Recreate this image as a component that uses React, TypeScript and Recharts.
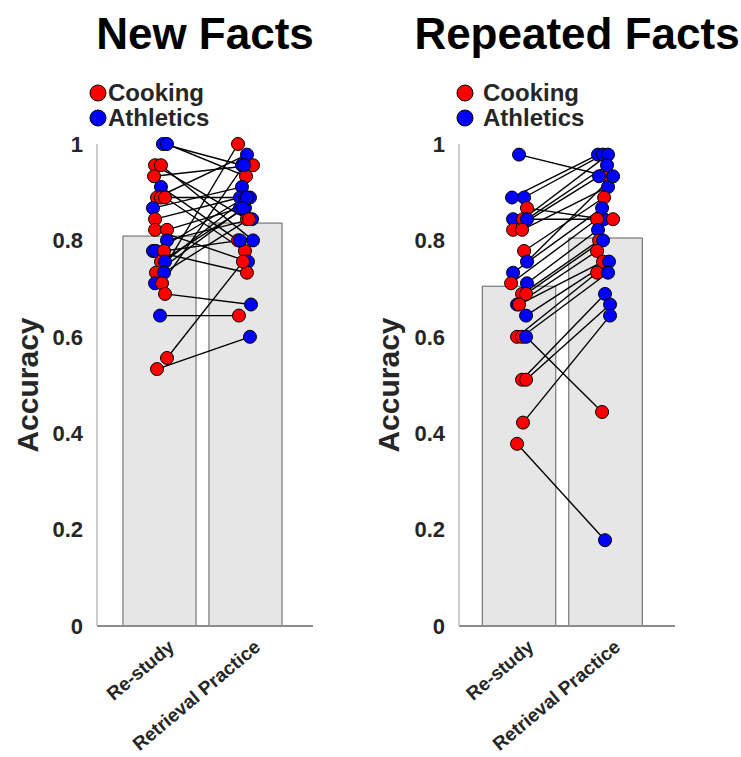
import React from "react";
import {
  ComposedChart,
  XAxis,
  YAxis,
  Scatter,
  ReferenceArea,
  ReferenceLine,
} from "recharts";

const CONDITIONS = ["Re-study", "Retrieval Practice"];
const Y_TICKS = [0, 0.2, 0.4, 0.6, 0.8, 1];
const LEGEND = [
  { key: "C", label: "Cooking", color: "#ff0000" },
  { key: "A", label: "Athletics", color: "#0000ff" },
];

// New facts: one entry per participant, re-study then retrieval practice
const NEW_RESTUDY = [1, 1, 0.956, 0.956, 0.933, 0.911, 0.889, 0.889, 0.889, 0.867, 0.844, 0.822, 0.822, 0.8, 0.778, 0.778, 0.778, 0.756, 0.756, 0.733, 0.733, 0.711, 0.711, 0.689, 0.644, 0.556, 0.533];
const NEW_RESTUDY_DOMAIN = ["A", "A", "C", "C", "C", "A", "C", "C", "C", "A", "C", "C", "C", "A", "A", "A", "C", "C", "A", "C", "A", "A", "C", "C", "A", "C", "C"];
const NEW_RESTUDY_JITTER = [0.04, 0.087, -0.052, 0.017, -0.064, 0.017, -0.029, 0.017, 0.064, -0.076, -0.052, -0.052, 0.087, 0.087, -0.076, -0.041, 0.052, 0.017, 0.064, -0.041, 0.052, -0.052, 0.029, 0.064, 0.006, 0.087, -0.029];
const NEW_RETRIEVAL = [0.956, 0.933, 0.844, 0.8, 0.956, 0.8, 0.978, 0.889, 0.778, 0.911, 0.889, 0.756, 0.867, 0.844, 0.733, 0.889, 0.8, 0.867, 0.889, 0.867, 0.844, 1, 0.956, 0.667, 0.644, 0.756, 0.6];
const NEW_RETRIEVAL_DOMAIN = ["A", "C", "C", "A", "C", "C", "A", "A", "C", "A", "A", "A", "A", "A", "C", "A", "A", "A", "A", "A", "C", "C", "A", "A", "C", "C", "A"];
const NEW_RETRIEVAL_JITTER = [-0.041, 0.006, 0.017, 0.087, 0.087, -0.087, 0.017, 0.052, -0.006, -0.041, -0.064, 0.029, -0.064, 0.076, 0.017, -0.006, -0.064, -0.006, 0.017, -0.029, 0.041, -0.087, -0.017, 0.064, -0.076, -0.029, 0.052];
const NEW_MEANS = [0.809, 0.836];

// Repeated facts
const REP_RESTUDY = [0.978, 0.889, 0.889, 0.867, 0.844, 0.844, 0.844, 0.822, 0.822, 0.778, 0.756, 0.733, 0.711, 0.711, 0.689, 0.689, 0.667, 0.667, 0.644, 0.6, 0.6, 0.6, 0.511, 0.511, 0.422, 0.378];
const REP_RESTUDY_DOMAIN = ["A", "A", "A", "C", "A", "C", "A", "C", "C", "C", "A", "A", "C", "A", "C", "C", "A", "C", "A", "C", "C", "A", "C", "C", "C", "C"];
const REP_RESTUDY_JITTER = [0, -0.081, 0.058, 0.092, -0.069, 0.046, 0.092, -0.069, 0.035, 0.058, 0.092, -0.069, -0.092, 0.092, 0.035, 0.081, -0.023, 0, 0.081, -0.023, 0.035, 0.081, 0.035, 0.081, 0.046, -0.023];
const REP_RETRIEVAL = [0.933, 0.978, 0.978, 0.844, 0.844, 0.978, 0.956, 0.933, 0.911, 0.889, 0.933, 0.867, 0.844, 0.822, 0.8, 0.8, 0.778, 0.756, 0.756, 0.733, 0.733, 0.444, 0.689, 0.667, 0.644, 0.178];
const REP_RETRIEVAL_DOMAIN = ["C", "A", "A", "A", "C", "A", "A", "A", "A", "C", "A", "A", "C", "A", "C", "A", "C", "C", "A", "C", "A", "C", "A", "A", "A", "A"];
const REP_RETRIEVAL_JITTER = [0.017, -0.087, -0.029, -0.017, 0.087, 0.029, 0.017, -0.075, 0.029, -0.017, 0.087, -0.04, -0.098, -0.087, -0.075, -0.029, -0.098, -0.029, 0.04, -0.098, 0.029, -0.04, -0.006, 0.052, 0.052, -0.006];
const REP_MEANS = [0.705, 0.805];

const FONT = "'Liberation Sans', Arial, Helvetica, sans-serif";
const TEXT = "#262626";
const colorOf = (d: string) => (d === "C" ? "#ff0000" : "#0000ff");

interface PanelProps {
  restudy: number[];
  restudyDomain: string[];
  restudyJitter: number[];
  retrieval: number[];
  retrievalDomain: string[];
  retrievalJitter: number[];
  means: number[];
  xDomain: [number, number];
  width: number;
  yAxisWidth: number;
  rightMargin: number;
}

const XTick = (props: any) => {
  const { x, y, payload } = props;
  const label = CONDITIONS[Math.round(payload.value) - 1];
  return (
    <g transform={`translate(${x + 12},${y + 10})`}>
      <text
        textAnchor="end"
        dominantBaseline="central"
        transform="rotate(-40)"
        fontSize={19}
        fontWeight="bold"
        fontFamily={FONT}
        fill={TEXT}
      >
        {label}
      </text>
    </g>
  );
};

const Dot = (props: any) => {
  const { cx, cy, payload } = props;
  return <circle cx={cx} cy={cy} r={6.5} fill={colorOf(payload.domain)} stroke="#000" strokeWidth={1} />;
};

function Panel(p: PanelProps) {
  const dots: { x: number; y: number; domain: string }[] = [];
  p.restudy.forEach((v, i) => dots.push({ x: 1 + p.restudyJitter[i], y: v, domain: p.restudyDomain[i] }));
  p.retrieval.forEach((v, i) => dots.push({ x: 2 + p.retrievalJitter[i], y: v, domain: p.retrievalDomain[i] }));

  return (
    <ComposedChart
      width={p.width}
      height={757}
      margin={{ top: 144, right: p.rightMargin, bottom: 0, left: 0 }}
    >
      <XAxis
        type="number"
        dataKey="x"
        domain={p.xDomain}
        ticks={[1, 2]}
        allowDataOverflow
        height={131}
        tickLine={false}
        axisLine={{ stroke: "#8c8c8c", strokeWidth: 2 }}
        tick={<XTick />}
        interval={0}
      />
      <YAxis
        type="number"
        dataKey="y"
        domain={[0, 1]}
        ticks={Y_TICKS}
        width={p.yAxisWidth}
        tickLine={false}
        tickMargin={8}
        axisLine={{ stroke: "#bdbdbd", strokeWidth: 1.5 }}
        tick={{ fontSize: 22, fontWeight: "bold", fill: TEXT, fontFamily: FONT }}
        tickFormatter={(v: number) => String(Number(v.toFixed(1)))}
      />
      {p.means.map((m, i) => (
        <ReferenceArea
          key={`bar-${i}`}
          x1={i + 1 - 0.425}
          x2={i + 1 + 0.425}
          y1={0}
          y2={m}
          fill="#e6e6e6"
          fillOpacity={1}
          stroke="#5e5e5e"
          strokeWidth={1}
          ifOverflow="visible"
        />
      ))}
      {p.restudy.map((v, i) => (
        <ReferenceLine
          key={`pair-${i}`}
          segment={[
            { x: 1 + p.restudyJitter[i], y: v },
            { x: 2 + p.retrievalJitter[i], y: p.retrieval[i] },
          ]}
          stroke="#000"
          strokeWidth={1.4}
          ifOverflow="visible"
        />
      ))}
      <Scatter data={dots} shape={<Dot />} isAnimationActive={false} />
    </ComposedChart>
  );
}

export default function App() {
  return (
    <div style={{ position: "absolute", left: 0, top: 0, width: 741, height: 757, background: "#fff", fontFamily: FONT }}>
      <div style={{ position: "absolute", left: 0, top: 0 }}>
        <Panel
          restudy={NEW_RESTUDY}
          restudyDomain={NEW_RESTUDY_DOMAIN}
          restudyJitter={NEW_RESTUDY_JITTER}
          retrieval={NEW_RETRIEVAL}
          retrievalDomain={NEW_RETRIEVAL_DOMAIN}
          retrievalJitter={NEW_RETRIEVAL_JITTER}
          means={NEW_MEANS}
          xDomain={[0.273, 2.785]}
          width={370}
          yAxisWidth={97}
          rightMargin={57}
        />
      </div>
      <div style={{ position: "absolute", left: 370, top: 0 }}>
        <Panel
          restudy={REP_RESTUDY}
          restudyDomain={REP_RESTUDY_DOMAIN}
          restudyJitter={REP_RESTUDY_JITTER}
          retrieval={REP_RETRIEVAL}
          retrievalDomain={REP_RETRIEVAL_DOMAIN}
          retrievalJitter={REP_RETRIEVAL_JITTER}
          means={REP_MEANS}
          xDomain={[0.306, 2.803]}
          width={371}
          yAxisWidth={89}
          rightMargin={66}
        />
      </div>
      <svg width={741} height={757} style={{ position: "absolute", left: 0, top: 0, pointerEvents: "none" }}>
        <g fontFamily={FONT} fontWeight="bold" fill="#000">
          <text x={205} y={49} fontSize={44} textAnchor="middle">New Facts</text>
          <text x={577} y={49} fontSize={44} textAnchor="middle">Repeated Facts</text>
          <text transform="translate(27,385) rotate(-90)" fontSize={30} textAnchor="middle" dominantBaseline="central" fill={TEXT}>Accuracy</text>
          <text transform="translate(388,385) rotate(-90)" fontSize={30} textAnchor="middle" dominantBaseline="central" fill={TEXT}>Accuracy</text>
          {LEGEND.map((l, i) => (
            <g key={l.key}>
              <circle cx={98} cy={93 + i * 25} r={8} fill={l.color} stroke="#000" strokeWidth={1} />
              <text x={108} y={101 + i * 25} fontSize={24} fill={TEXT}>{l.label}</text>
              <circle cx={465} cy={93 + i * 25} r={8} fill={l.color} stroke="#000" strokeWidth={1} />
              <text x={483} y={101 + i * 25} fontSize={24} fill={TEXT}>{l.label}</text>
            </g>
          ))}
        </g>
      </svg>
    </div>
  );
}
